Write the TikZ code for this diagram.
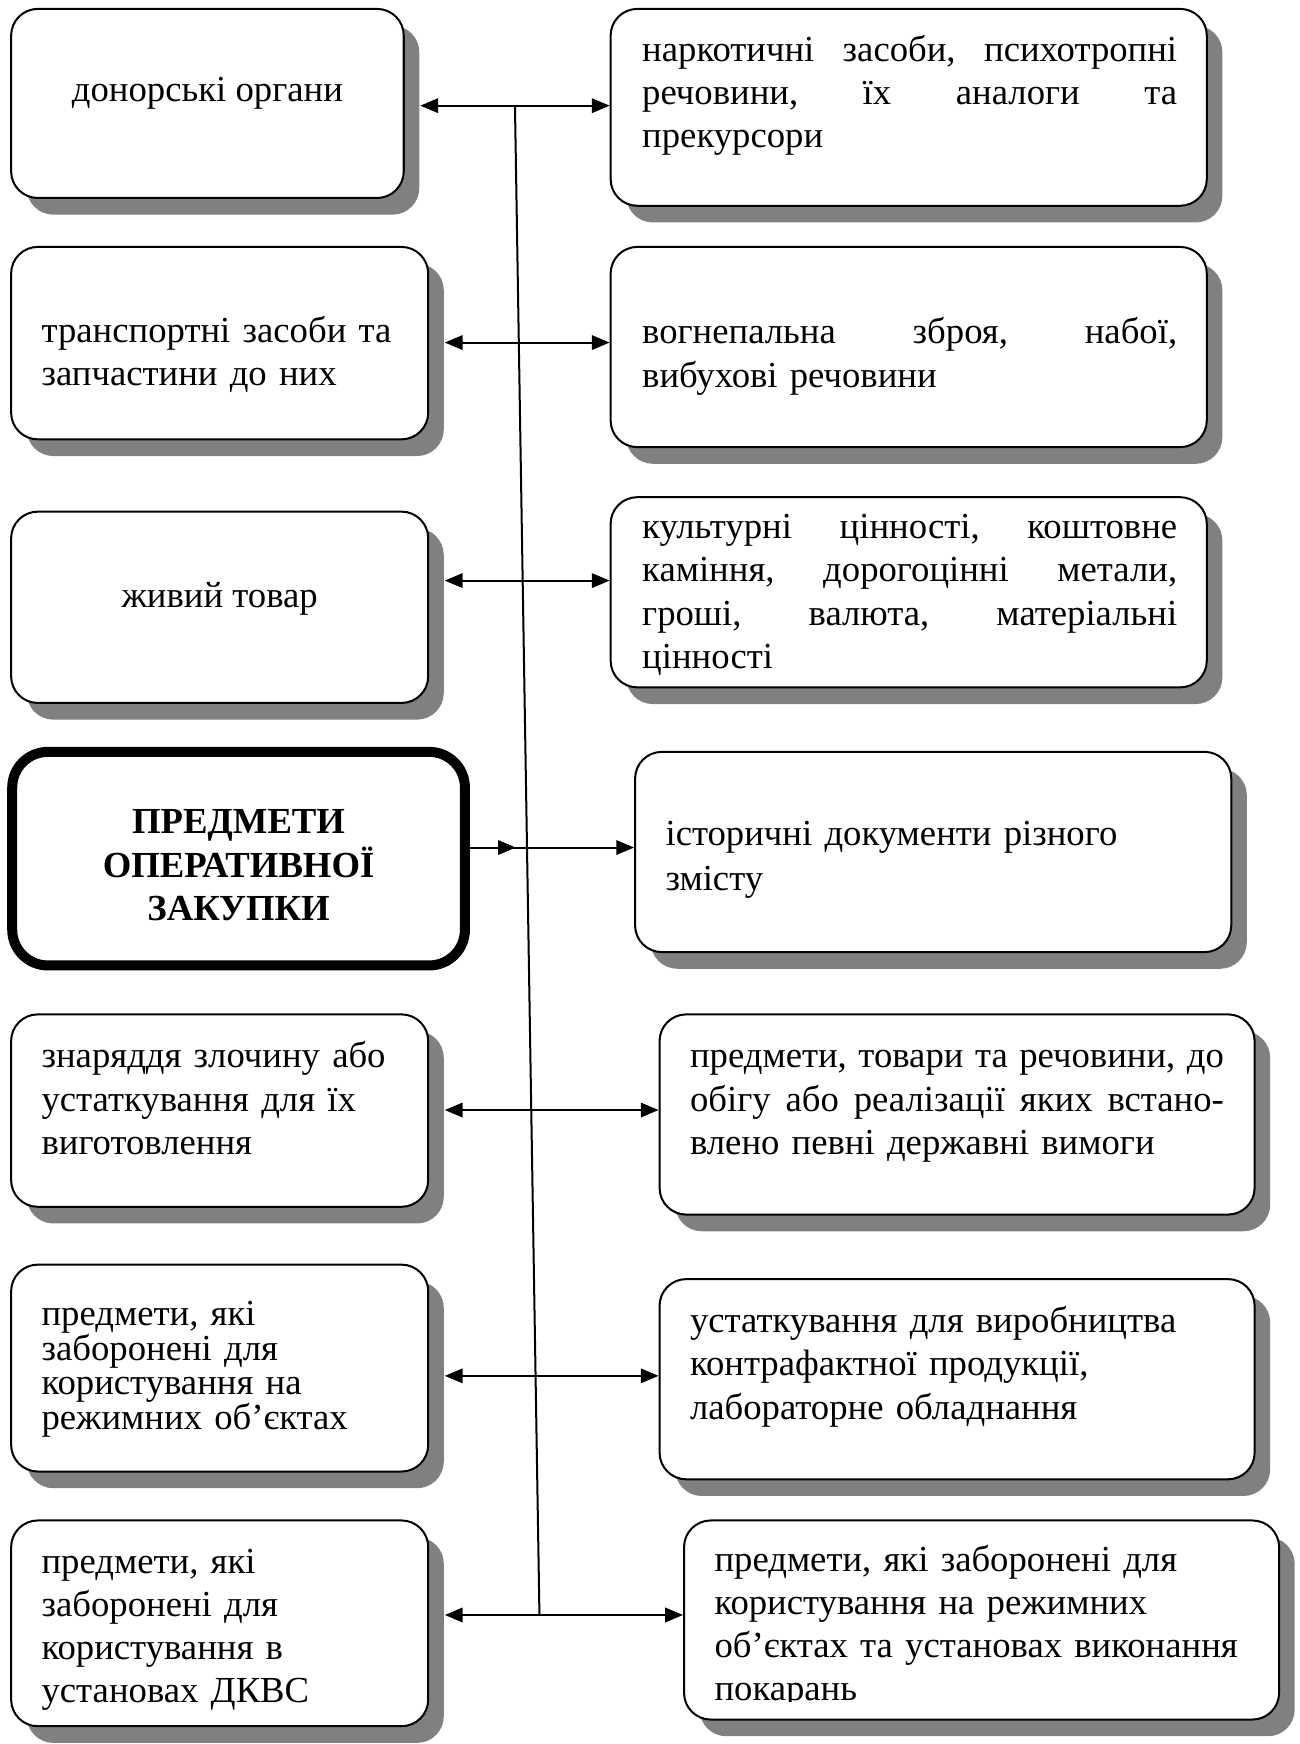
\documentclass[tikz,border=0pt]{standalone}
\usepackage{fontspec}
\setmainfont{Liberation Serif}
\usetikzlibrary{arrows.meta,shadows}
\newcommand\fsz{\fontsize{16.5}{19.5}\selectfont}
\newcommand\jline[2]{\leavevmode\hbox to #1{#2}}
\newcommand\bx[6]{\node[#6,minimum width={(#4-#2)*0.5pt},minimum height={(#5-#3)*0.5pt}] (#1) at ({(#2+#4)/2},{(#3+#5)/2}) {};}
\begin{document}
\begin{tikzpicture}[x=0.5pt,y=-0.5pt,
  box/.style={draw,line width=0.9pt,rounded corners=12pt,fill=white,inner sep=0pt,
    drop shadow={shadow xshift=7pt,shadow yshift=-7.5pt,fill=black!50,opacity=1}},
  mainbox/.style={draw,line width=4.5pt,rounded corners=16pt,fill=white,inner sep=0pt},
  txt/.style={font=\fsz,inner sep=0pt,align=left,anchor=base west},
  ctxt/.style={font=\fsz,inner sep=0pt,align=center,anchor=base},
  conn/.style={line width=0.9pt},
  tip/.style={line width=0.9pt,-{Triangle[length=8pt,width=6.5pt]}},
  dtip/.style={line width=0.9pt,{Triangle[length=8pt,width=6.5pt]}-{Triangle[length=8pt,width=6.5pt]}}]
\useasboundingbox (0,0) rectangle (1168,1568);
% left boxes
\bx{l1}{10}{8}{363}{178}{box}
\bx{l2}{10}{222}{385}{395}{box}
\bx{l3}{10}{460}{385}{632}{box}
\bx{c}{11}{676}{418}{868}{mainbox}
\bx{l5}{10}{912}{385}{1085}{box}
\bx{l6}{10}{1137}{385}{1323}{box}
\bx{l7}{10}{1367}{385}{1552}{box}
% right boxes
\bx{r1}{549}{8}{1085}{185}{box}
\bx{r2}{549}{222}{1085}{402}{box}
\bx{r3}{549}{447}{1085}{618}{box}
\bx{r4}{571}{676}{1107}{856}{box}
\bx{r5}{593}{912}{1128}{1092}{box}
\bx{r6}{593}{1150}{1128}{1330}{box}
\bx{r7}{615}{1367}{1150}{1546}{box}
% texts
\node[ctxt] (tl1) at (186.5,91) {донорські органи};
\node[txt,text width=170pt] (tl2) at (37,308) {транспортні засоби та\\запчастини до них};
\node[ctxt] (tl3) at (197.5,546) {живий товар};
\node[ctxt,text width=195pt,font=\fontsize{16.5}{19.75}\selectfont\bfseries] (tc) at (214.5,749) {ПРЕДМЕТИ\\ОПЕРАТИВНОЇ\\ЗАКУПКИ};
\node[txt,text width=170pt] (tl5) at (37,960) {знаряддя злочину або\\устаткування для їх\\виготовлення};
\node[txt,text width=170pt,font=\fontsize{16.5}{15.5}\selectfont] (tl6) at (37,1192) {предмети, які\\заборонені для\\користування на\\режимних об’єктах};
\node[txt,text width=170pt,font=\fontsize{16.5}{19.25}\selectfont] (tl7) at (37,1415) {предмети, які\\заборонені для\\користування в\\установах ДКВС};
\node[txt,text width=240.5pt] (tr1) at (577,55) {\jline{240.5pt}{наркотичні\hfill засоби,\hfill психотропні}\\\jline{240.5pt}{речовини,\hfill їх\hfill аналоги\hfill та}\\прекурсори};
\node[txt,text width=240.5pt] (tr2) at (577,309) {\jline{240.5pt}{вогнепальна\hfill зброя,\hfill набої,}\\вибухові речовини};
\node[txt,text width=240.5pt] (tr3) at (577,484) {\jline{240.5pt}{культурні\hfill цінності,\hfill коштовне}\\\jline{240.5pt}{каміння,\hfill дорогоцінні\hfill метали,}\\\jline{240.5pt}{гроші,\hfill валюта,\hfill матеріальні}\\цінності};
\node[txt,text width=240pt,font=\fontsize{16.5}{20.5}\selectfont] (tr4) at (598,760) {історичні документи різного\\змісту};
\node[txt,text width=240pt] (tr5) at (620,960) {\jline{240pt}{предмети,\hfill товари\hfill та\hfill речовини,\hfill до}\\\jline{240pt}{обігу\hfill або\hfill реалізації\hfill яких\hfill встано-}\\влено певні державні вимоги};
\node[txt,text width=240pt] (tr6) at (620,1198) {устаткування для виробництва\\контрафактної продукції,\\лабораторне обладнання};
\begin{scope}
\clip (615,1367) rectangle (1150,1530);
\node[txt,text width=262pt,font=\fontsize{16.5}{19.25}\selectfont] (tr7) at (642,1413) {предмети, які заборонені для\\користування на режимних\\об’єктах та установах виконання\\покарань};
\end{scope}
% connectors
\coordinate (j1) at (463,95);
\coordinate (j2) at (466.5,308);
\coordinate (j3) at (469.9,522);
\coordinate (j4) at (473.8,762);
\coordinate (j5) at (477.6,998);
\coordinate (j6) at (481.5,1237);
\coordinate (j7) at (485,1452);
\draw[conn] (j1) -- (j7);
\draw[dtip] ([xshift=7pt]l1.east |- j1) -- (r1.west |- j1);
\draw[dtip] ([xshift=7pt]l2.east |- j2) -- (r2.west |- j2);
\draw[dtip] ([xshift=7pt]l3.east |- j3) -- (r3.west |- j3);
\draw[tip] (c.east |- j4) -- (r4.west |- j4);
\draw[tip] (c.east |- j4) -- ([xshift=-5pt]j4);
\draw[dtip] ([xshift=7pt]l5.east |- j5) -- (r5.west |- j5);
\draw[dtip] ([xshift=7pt]l6.east |- j6) -- (r6.west |- j6);
\draw[dtip] ([xshift=7pt]l7.east |- j7) -- (r7.west |- j7);
\end{tikzpicture}
\end{document}
